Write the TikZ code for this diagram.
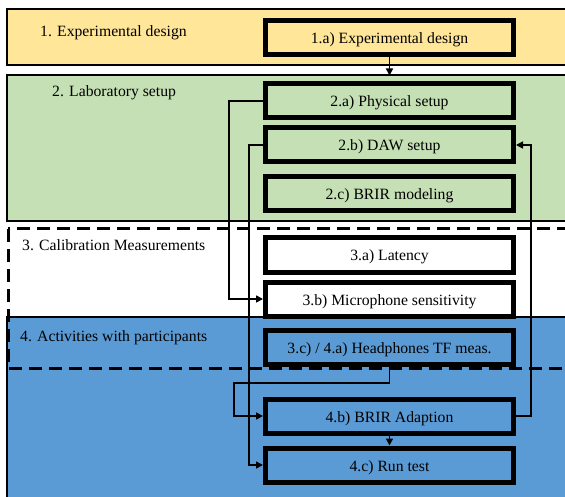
\documentclass[tikz,border=0pt]{standalone}
\usepackage{fontspec}
\setmainfont{Liberation Serif}
\usetikzlibrary{arrows.meta}

\definecolor{bandyellow}{RGB}{255,230,153}
\definecolor{bandgreen}{RGB}{197,224,180}
\definecolor{bandblue}{RGB}{91,155,213}

\begin{document}
\begin{tikzpicture}[x=1pt, y=-1pt, >={Triangle[length=7pt,width=7pt]},
  band/.style={draw, line width=1.3pt},
  phase/.style={anchor=west, inner sep=0pt, font=\fontsize{15.7}{18}\selectfont},
  task/.style={draw, line width=5pt, minimum width=248pt, minimum height=34pt,
    inner sep=0pt, text height=12pt, text depth=0pt,
    font=\fontsize{15.7}{18}\selectfont},
  link/.style={->, line width=1.6pt}]
\useasboundingbox (0,0) rectangle (565,497);
\clip (0,0) rectangle (565,497);
% phase bands
\fill[white] (0,0) rectangle (565,497);
\draw[band, fill=bandyellow] (7,9) rectangle (580,65);
\draw[band, fill=bandgreen] (7,75) rectangle (580,221);
\draw[band, fill=bandblue] (7,317) rectangle (580,510);
\node[phase] (p1) at (40,32.5) {1. Experimental design};
\node[phase] (p2) at (52,92.5) {2. Laboratory setup};
\node[phase] (p3) at (22,245.5) {3. Calibration Measurements};
\node[phase] (p4) at (20,337.5) {4. Activities with participants};
% tasks
\node[task, fill=bandyellow] (t1a) at (389.5,37.5) {1.a) Experimental design};
\node[task, fill=bandgreen] (t2a) at (389.5,101) {2.a) Physical setup};
\node[task, fill=bandgreen] (t2b) at (389.5,145) {2.b) DAW setup};
\node[task, fill=bandgreen] (t2c) at (389.5,194) {2.c) BRIR modeling};
\node[task, fill=white] (t3a) at (389.5,255) {3.a) Latency};
\node[task, fill=white] (t3b) at (389.5,299) {3.b) Microphone sensitivity};
\node[task, fill=bandblue] (t3c) at (389.5,347.5) {3.c) / 4.a) Headphones TF meas.};
\node[task, fill=bandblue] (t4b) at (389.5,416) {4.b) BRIR Adaption};
\node[task, fill=bandblue] (t4c) at (389.5,465) {4.c) Run test};
% calibration frame, shared by phases 3 and 4
\draw[line width=3pt, dash pattern=on 13pt off 7pt] (8,229) rectangle (580,368);
% flow
\coordinate (bend) at (234,383);
\draw[link, shorten >=6pt] (t1a.south) -- (t2a.north);
\draw[link] (t2a.west) -- ++(-34,0) |- (t3b.west);
\draw[link] (t2b.west) -- ++(-14,0) |- (t4c.west);
\draw[link] (t3c.south) |- (bend) |- (t4b.west);
\draw[link] (t4b.east) -- ++(15,0) |- (t2b.east);
\draw[link] (t4b) -- (t4c);
\end{tikzpicture}
\end{document}
